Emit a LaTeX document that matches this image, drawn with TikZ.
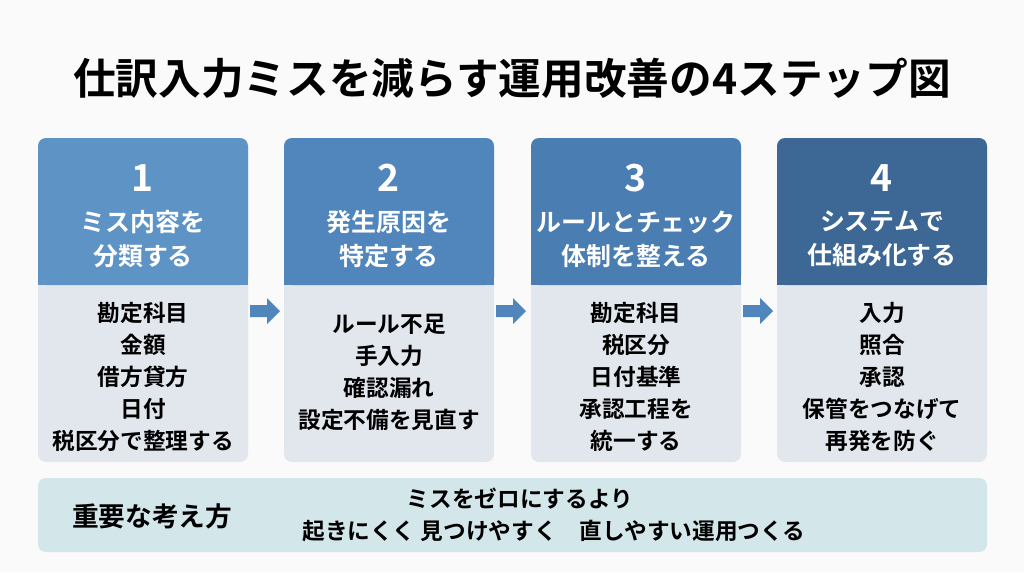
\documentclass[tikz,border=0pt]{standalone}
\usepackage{fontspec}
\setmainfont{Noto Sans CJK JP}
\newfontfamily\bjp{Noto Sans CJK JP Bold}
\begin{document}
\begin{tikzpicture}[x=0.75pt,y=-0.75pt,
 num/.style={text=white,font=\bjp\fontsize{28}{30}\selectfont},
 htx/.style={text=white,font=\bjp\fontsize{18.7}{25.5}\selectfont,align=center},
 btx/.style={text=black,font=\bjp\fontsize{17}{24}\selectfont,align=center},
 mtx/.style={font=\bjp\fontsize{17}{20}\selectfont}]
\definecolor{bg}{HTML}{FAFAFA}
\definecolor{c1}{HTML}{5E93C6}
\definecolor{c2}{HTML}{5086BC}
\definecolor{c3}{HTML}{4A7DB2}
\definecolor{c4}{HTML}{3D6794}
\definecolor{bd}{HTML}{E2E6ED}
\definecolor{bt}{HTML}{D3E6EA}
\useasboundingbox (0,0) rectangle (1024,572);
\fill[bg] (0,0) rectangle (1024,572);
\node[font=\bjp\fontsize{32}{34}\selectfont] (title) at (512,78) {仕訳入力ミスを減らす運用改善の4ステップ図};
\foreach \i/\x/\c in {1/38/c1,2/284/c2,3/531/c3,4/777/c4}{
 \fill[bd,rounded corners=6pt] (\x,138) rectangle ++(210,324);
 \fill[\c,rounded corners=6pt] (\x,138) rectangle ++(210,147);
 \fill[\c] (\x,270) rectangle ++(210,15);
 \node[num] (n\i) at (\x+105,178) {\i};
}
\node[htx] (h1) at (143,239) {ミス内容を\\分類する};
\node[htx] (h2) at (389,239) {発生原因を\\特定する};
\node[htx] (h3) at (636,239) {ルールとチェック\\体制を整える};
\node[htx] (h4) at (882,239) {システムで\\仕組み化する};
\node[btx] (b1) at (143,377) {勘定科目\\金額\\借方貸方\\日付\\税区分で整理する};
\node[btx] (b2) at (389,372) {ルール不足\\手入力\\確認漏れ\\設定不備を見直す};
\node[btx] (b3) at (636,377) {勘定科目\\税区分\\日付基準\\承認工程を\\統一する};
\node[btx] (b4) at (882,377) {入力\\照合\\承認\\保管をつなげて\\再発を防ぐ};
\foreach \x in {250,496,743}{
 \fill[c2] (\x,305) -- (\x+17,305) -- (\x+17,298) -- (\x+30,311) -- (\x+17,324) -- (\x+17,317) -- (\x,317) -- cycle;
}
\fill[bt,rounded corners=6pt] (38,478) rectangle (987,552);
\node[font=\bjp\fontsize{20}{22}\selectfont] (k) at (152,516) {重要な考え方};
\node[mtx] (m1) at (520,499) {ミスをゼロにするより};
\node[mtx] (m2) at (554,531) {起きにくく 見つけやすく\quad 直しやすい運用つくる};
\end{tikzpicture}
\end{document}
